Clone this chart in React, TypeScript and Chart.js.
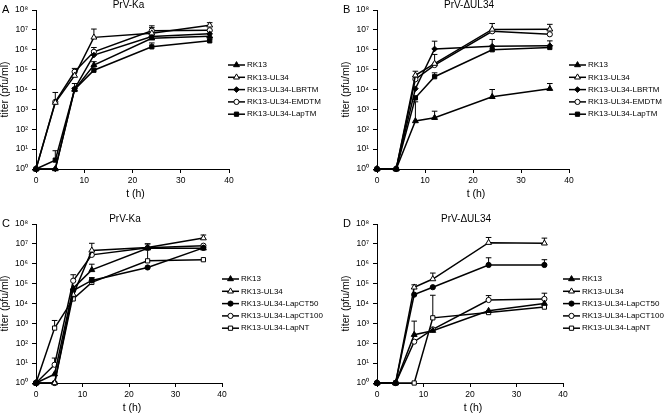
import React, { useEffect, useRef } from "react";
import { Chart, registerables } from "chart.js";

Chart.register(...registerables);

// ---------------- data ----------------
const timePoints = [0, 4, 8, 12, 24, 36];
const yTickExponents = [0, 1, 2, 3, 4, 5, 6, 7, 8];
const superscripts = ["⁰", "¹", "²", "³", "⁴", "⁵", "⁶", "⁷", "⁸"];

const labelsTop = ["RK13", "RK13-UL34", "RK13-UL34-LBRTM", "RK13-UL34-EMDTM", "RK13-UL34-LapTM"];
const labelsBottom = ["RK13", "RK13-UL34", "RK13-UL34-LapCT50", "RK13-UL34-LapCT100", "RK13-UL34-LapNT"];

// Panel A: PrV-Ka (titer, pfu/ml)
const A_RK13 = [1, 1, 1.0e4, 1.7e5, 3.8e6, 4.8e6];
const A_UL34 = [1, 2.2e3, 5.0e4, 4.2e6, 6.8e6, 1.7e7];
const A_LBRTM = [1, 1, 1.1e4, 5.4e5, 4.6e6, 6.3e6];
const A_EMDTM = [1, 2.4e3, 7.8e4, 7.9e5, 9.1e6, 9.5e6];
const A_LapTM = [1, 2.8, 1.0e4, 9.3e4, 1.4e6, 2.8e6];
// upper ends of error bars
const A_RK13_err = [null, null, null, 2.5e5, 5.0e6, null];
const A_UL34_err = [null, null, null, 1.1e7, 1.3e7, 2.3e7];
const A_LBRTM_err = [null, null, null, 9.0e5, null, 9.0e6];
const A_EMDTM_err = [null, 7.1e3, 1.15e5, 1.3e6, 1.6e7, null];
const A_LapTM_err = [null, 8.3, 2.0e4, 1.5e5, 2.2e6, 3.5e6];

// Panel B: PrV-ΔUL34
const B_RK13 = [1, 1, 2.6e2, 3.8e2, 4.3e3, 1.1e4];
const B_UL34 = [1, 1, 5.2e4, 2.0e5, 1.05e7, 1.07e7];
const B_LBRTM = [1, 1, 1.1e4, 1.1e6, 1.5e6, 1.6e6];
const B_EMDTM = [1, 1, 3.3e4, 1.7e5, 8.5e6, 6.0e6];
const B_LapTM = [1, 1, 3.8e3, 4.4e4, 1.0e6, 1.3e6];
const B_RK13_err = [null, null, 2.4e3, 8.1e2, 1.0e4, 2.0e4];
const B_UL34_err = [null, null, 8.3e4, 5.8e5, 2.1e7, 1.9e7];
const B_LBRTM_err = [null, null, null, 2.7e6, 3.3e6, 2.8e6];
const B_EMDTM_err = [null, null, null, null, null, null];
const B_LapTM_err = [null, null, null, 6.9e4, null, null];

// Panel C: PrV-Ka
const C_RK13 = [1, 2.8, 5.9e4, 4.9e5, 6.0e6, 6.0e6];
const C_UL34 = [1, 1, 2.8e4, 4.7e6, 6.5e6, 1.95e7];
const C_LapCT50 = [1, 1, 4.5e4, 1.45e5, 6.5e5, 6.3e6];
const C_LapCT100 = [1, 8.3, 1.4e5, 2.8e6, 6.3e6, 8.1e6];
const C_LapNT = [1, 5.8e2, 1.7e4, 1.15e5, 1.4e6, 1.6e6];
const C_RK13_err = [null, null, null, 9.5e5, null, null];
const C_UL34_err = [null, null, null, 1.07e7, 1.0e7, 2.8e7];
const C_LapCT50_err = [null, null, null, 2.0e5, null, null];
const C_LapCT100_err = [null, 18, 2.8e5, null, null, null];
const C_LapNT_err = [null, 1.4e3, null, 1.9e5, 1.0e7, null];

// Panel D: PrV-ΔUL34
const D_RK13 = [1, 1, 2.7e2, 4.3e2, 4.3e3, 1.0e4];
const D_UL34 = [1, 1, 6.5e4, 1.7e5, 1.15e7, 1.07e7];
const D_LapCT50 = [1, 1, 2.8e4, 6.6e4, 8.7e5, 8.7e5];
const D_LapCT100 = [1, 1, 1.2e2, 5.0e2, 1.5e4, 1.7e4];
const D_LapNT = [1, 1, 1, 1.9e3, 3.5e3, 6.6e3];
const D_RK13_err = [null, null, 1.3e3, null, null, null];
const D_UL34_err = [null, null, 8.7e4, 3.4e5, 2.1e7, 1.95e7];
const D_LapCT50_err = [null, null, null, null, 2.0e6, 1.6e6];
const D_LapCT100_err = [null, null, null, null, 2.5e4, 3.3e4];
const D_LapNT_err = [null, null, null, 2.6e4, null, null];

// ---------------- styling ----------------
const FONT = '"Liberation Sans", Arial, Helvetica, sans-serif';
const W = 664;
const H = 415;
const Y_W = 30;
const X_H = 20;

type Marker = { style: string; fill: string; r: number };
const markersTop: Marker[] = [
  { style: "triangle", fill: "#000", r: 3.4 },
  { style: "triangle", fill: "#fff", r: 3.4 },
  { style: "rectRot", fill: "#000", r: 2.8 },
  { style: "circle", fill: "#fff", r: 2.6 },
  { style: "rect", fill: "#000", r: 3 },
];
const markersBottom: Marker[] = [
  { style: "triangle", fill: "#000", r: 3.4 },
  { style: "triangle", fill: "#fff", r: 3.4 },
  { style: "circle", fill: "#000", r: 2.6 },
  { style: "circle", fill: "#fff", r: 2.6 },
  { style: "rect", fill: "#fff", r: 3 },
];

type PanelCfg = {
  letter: string;
  title: string;
  area: { left: number; right: number; top: number; bottom: number };
  labels: string[];
  markers: Marker[];
  values: number[][];
  errors: (number | null)[][];
  legendX: number;
  legendY: number;
};

const panels: PanelCfg[] = [
  {
    letter: "A",
    title: "PrV-Ka",
    area: { left: 36, right: 229, top: 10, bottom: 169 },
    labels: labelsTop,
    markers: markersTop,
    values: [A_RK13, A_UL34, A_LBRTM, A_EMDTM, A_LapTM],
    errors: [A_RK13_err, A_UL34_err, A_LBRTM_err, A_EMDTM_err, A_LapTM_err],
    legendX: 228,
    legendY: 65,
  },
  {
    letter: "B",
    title: "PrV-ΔUL34",
    area: { left: 377, right: 569, top: 10, bottom: 169 },
    labels: labelsTop,
    markers: markersTop,
    values: [B_RK13, B_UL34, B_LBRTM, B_EMDTM, B_LapTM],
    errors: [B_RK13_err, B_UL34_err, B_LBRTM_err, B_EMDTM_err, B_LapTM_err],
    legendX: 569,
    legendY: 65,
  },
  {
    letter: "C",
    title: "PrV-Ka",
    area: { left: 36, right: 222, top: 224, bottom: 383 },
    labels: labelsBottom,
    markers: markersBottom,
    values: [C_RK13, C_UL34, C_LapCT50, C_LapCT100, C_LapNT],
    errors: [C_RK13_err, C_UL34_err, C_LapCT50_err, C_LapCT100_err, C_LapNT_err],
    legendX: 222,
    legendY: 279,
  },
  {
    letter: "D",
    title: "PrV-ΔUL34",
    area: { left: 377, right: 563, top: 224, bottom: 383 },
    labels: labelsBottom,
    markers: markersBottom,
    values: [D_RK13, D_UL34, D_LapCT50, D_LapCT100, D_LapNT],
    errors: [D_RK13_err, D_UL34_err, D_LapCT50_err, D_LapCT100_err, D_LapNT_err],
    legendX: 563,
    legendY: 279,
  },
];

function drawMarker(ctx: CanvasRenderingContext2D, m: Marker, x: number, y: number) {
  const r = m.r;
  ctx.beginPath();
  if (m.style === "triangle") {
    let rad = 0;
    ctx.moveTo(x + Math.sin(rad) * r, y - Math.cos(rad) * r);
    rad += (2 * Math.PI) / 3;
    ctx.lineTo(x + Math.sin(rad) * r, y - Math.cos(rad) * r);
    rad += (2 * Math.PI) / 3;
    ctx.lineTo(x + Math.sin(rad) * r, y - Math.cos(rad) * r);
    ctx.closePath();
  } else if (m.style === "circle") {
    ctx.arc(x, y, r, 0, Math.PI * 2);
  } else if (m.style === "rect") {
    const s = r * Math.SQRT1_2;
    ctx.rect(x - s, y - s, 2 * s, 2 * s);
  } else if (m.style === "rectRot") {
    ctx.moveTo(x, y - r);
    ctx.lineTo(x + r, y);
    ctx.lineTo(x, y + r);
    ctx.lineTo(x - r, y);
    ctx.closePath();
  }
  ctx.fillStyle = m.fill;
  ctx.strokeStyle = "#000";
  ctx.lineWidth = 1;
  ctx.fill();
  ctx.stroke();
}

function Panel({ cfg }: { cfg: PanelCfg }) {
  const ref = useRef<HTMLCanvasElement | null>(null);

  useEffect(() => {
    if (!ref.current) return;
    const { area } = cfg;

    const errorBars = {
      id: "errorBars" + cfg.letter,
      beforeDatasetsDraw(chart: any) {
        const ctx = chart.ctx as CanvasRenderingContext2D;
        const xs = chart.scales.x;
        const ys = chart.scales.y;
        ctx.save();
        ctx.strokeStyle = "#000";
        ctx.lineWidth = 1;
        cfg.errors.forEach((errs, s) => {
          errs.forEach((e, i) => {
            if (e == null) return;
            const px = xs.getPixelForValue(timePoints[i]);
            const py = ys.getPixelForValue(cfg.values[s][i]);
            const pe = ys.getPixelForValue(e);
            ctx.beginPath();
            ctx.moveTo(px, py);
            ctx.lineTo(px, pe);
            ctx.moveTo(px - 2.8, pe);
            ctx.lineTo(px + 2.8, pe);
            ctx.stroke();
          });
        });
        ctx.restore();
      },
    };

    const texts = {
      id: "texts" + cfg.letter,
      afterDraw(chart: any) {
        const ctx = chart.ctx as CanvasRenderingContext2D;
        ctx.save();
        ctx.fillStyle = "#000";
        // panel letter
        ctx.font = `11px ${FONT}`;
        ctx.textAlign = "left";
        ctx.textBaseline = "middle";
        ctx.fillText(cfg.letter, area.left - 34, area.top);
        // panel title
        ctx.font = `10px ${FONT}`;
        ctx.textAlign = "center";
        ctx.fillText(cfg.title, (area.left + area.right) / 2 - 4, area.top - 5);
        // x title
        ctx.font = `10.5px ${FONT}`;
        ctx.fillText("t (h)", (area.left + area.right) / 2 + 3, area.bottom + 25);
        // y title
        ctx.save();
        ctx.translate(area.left - 31, (area.top + area.bottom) / 2);
        ctx.rotate(-Math.PI / 2);
        ctx.fillText("titer (pfu/ml)", 0, 0);
        ctx.restore();
        // legend
        ctx.font = `8px ${FONT}`;
        ctx.textAlign = "left";
        cfg.labels.forEach((lab, i) => {
          const y = cfg.legendY + i * 12.3;
          ctx.strokeStyle = "#000";
          ctx.lineWidth = 1.5;
          ctx.beginPath();
          ctx.moveTo(cfg.legendX, y);
          ctx.lineTo(cfg.legendX + 17, y);
          ctx.stroke();
          drawMarker(ctx, cfg.markers[i], cfg.legendX + 8.5, y);
          ctx.fillStyle = "#000";
          ctx.fillText(lab, cfg.legendX + 19, y);
        });
        ctx.restore();
      },
    };

    const datasets = cfg.values.map((vals, s) => ({
      label: cfg.labels[s],
      data: timePoints.map((t, i) => ({ x: t, y: vals[i] })),
      borderColor: "#000",
      borderWidth: 1.5,
      pointStyle: cfg.markers[s].style,
      pointRadius: cfg.markers[s].r,
      pointBackgroundColor: cfg.markers[s].fill,
      pointBorderColor: "#000",
      pointBorderWidth: 1,
      tension: 0,
      clip: false as any,
    }));

    const chart = new Chart(ref.current, {
      type: "line",
      data: { datasets },
      plugins: [errorBars, texts],
      options: {
        responsive: false,
        animation: false,
        events: [],
        layout: {
          padding: {
            left: area.left - Y_W,
            top: area.top,
            right: W - area.right,
            bottom: H - area.bottom - X_H,
          },
        },
        plugins: {
          legend: { display: false },
          tooltip: { enabled: false },
          title: { display: false },
        },
        scales: {
          x: {
            type: "linear",
            min: 0,
            max: 40,
            afterFit: (s: any) => {
              s.height = X_H;
            },
            ticks: {
              stepSize: 10,
              color: "#000",
              font: { family: FONT, size: 8.5 },
              padding: 3,
            },
            grid: {
              drawOnChartArea: false,
              drawTicks: true,
              tickLength: 4,
              color: "#000",
              lineWidth: 1,
            },
            border: { display: true, color: "#000", width: 1 },
          },
          y: {
            type: "logarithmic",
            min: 1,
            max: 1e8,
            afterFit: (s: any) => {
              s.width = Y_W;
            },
            afterBuildTicks: (s: any) => {
              s.ticks = yTickExponents.map((e) => ({ value: Math.pow(10, e) }));
            },
            ticks: {
              autoSkip: false,
              color: "#000",
              font: { family: FONT, size: 8.5 },
              padding: 4,
              callback: (v: any) => "10" + superscripts[Math.round(Math.log10(Number(v)))],
            },
            grid: {
              drawOnChartArea: false,
              drawTicks: true,
              tickLength: 4,
              color: "#000",
              lineWidth: 1,
            },
            border: { display: true, color: "#000", width: 1 },
          },
        },
      } as any,
    });
    return () => chart.destroy();
  }, [cfg]);

  return (
    <canvas
      ref={ref}
      width={W}
      height={H}
      style={{ position: "absolute", left: 0, top: 0, width: W, height: H }}
    />
  );
}

export default function App() {
  return (
    <div
      style={{
        position: "fixed",
        left: 0,
        top: 0,
        width: W,
        height: H,
        background: "#fff",
        overflow: "hidden",
      }}
    >
      {panels.map((p) => (
        <Panel key={p.letter} cfg={p} />
      ))}
    </div>
  );
}
